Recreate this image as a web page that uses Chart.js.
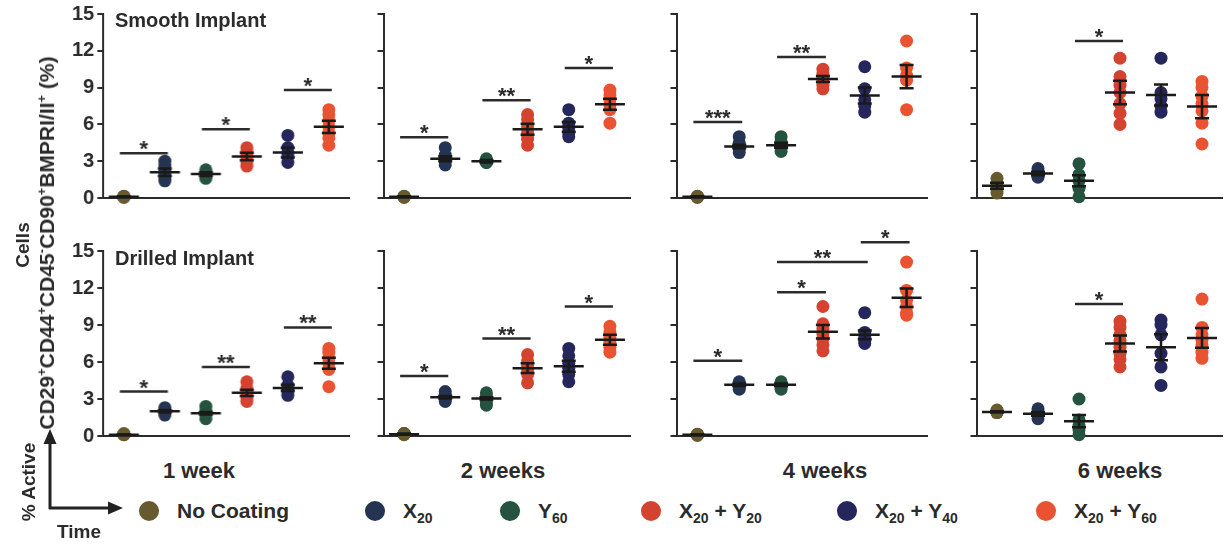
<!DOCTYPE html>
<html>
<head>
<meta charset="utf-8">
<script src="https://cdn.jsdelivr.net/npm/chart.js@4.4.1/dist/chart.umd.min.js"></script>
<style>
  body { margin: 0; width: 1225px; height: 550px; background: #fff; position: relative; overflow: hidden;
         font-family: "Liberation Sans", Arial, sans-serif; font-weight: bold; color: #2b2b2b; }
  .panel { position: absolute; }
  .lbl { position: absolute; white-space: nowrap; line-height: 1; }
  .c { transform: translate(-50%, -50%); }
  .rot { transform: translate(-50%, -50%) rotate(-90deg); }
  .dot { position: absolute; width: 20px; height: 20px; border-radius: 50%; transform: translate(-50%, -50%); }
  sub { font-size: 14px; vertical-align: -5px; }
  sup { font-size: 13px; vertical-align: 8px; }
</style>
</head>
<body>
<script>
// groups and time points
const groups = ["No Coating", "X20", "Y60", "X20 + Y20", "X20 + Y40", "X20 + Y60"];
const weeks = ["1 week", "2 weeks", "4 weeks", "6 weeks"];
const yTicks = [0, 3, 6, 9, 12, 15];

// individual points, one list per group (smooth implant)
const smoothWk1 = [[0.1, 0.1, 0.15, 0.05, 0.1], [3.0, 2.6, 2.2, 1.9, 1.6, 1.4], [2.3, 2.0, 1.9, 1.8, 1.6],
  [4.1, 3.8, 3.5, 3.3, 3.0, 2.6], [5.1, 4.1, 3.7, 3.4, 2.9], [7.2, 6.8, 6.3, 5.8, 5.3, 4.9, 4.3]];
const smoothWk2 = [[0.15, 0.1, 0.1, 0.05, 0.1], [4.1, 3.5, 3.2, 3.0, 2.7], [3.2, 3.1, 3.0, 2.9, 2.9],
  [6.8, 6.4, 5.9, 5.6, 5.2, 4.8, 4.3], [7.2, 6.1, 5.7, 5.3, 5.0], [8.8, 8.4, 8.0, 7.6, 7.2, 6.1]];
const smoothWk4 = [[0.1, 0.1, 0.05, 0.15, 0.1], [5.0, 4.5, 4.2, 4.0, 3.7], [5.0, 4.6, 4.3, 4.1, 3.8],
  [10.5, 10.1, 9.8, 9.5, 9.2, 8.9], [10.7, 8.9, 8.0, 7.5, 7.0], [12.8, 10.6, 10.0, 9.6, 7.2]];
const smoothWk6 = [[1.6, 1.2, 0.9, 0.7, 0.4], [2.4, 2.1, 2.0, 1.8, 1.7], [2.8, 1.9, 1.4, 0.8, 0.1],
  [11.4, 9.9, 9.2, 8.6, 7.7, 6.9, 6.0], [11.4, 8.6, 8.1, 7.5, 7.0], [9.5, 9.0, 8.3, 7.7, 7.1, 6.1, 4.4]];

// drilled implant
const drilledWk1 = [[0.15, 0.1, 0.2, 0.1, 0.15], [2.3, 2.1, 2.0, 1.9, 1.7], [2.4, 2.0, 1.9, 1.7, 1.4],
  [4.4, 3.9, 3.6, 3.4, 3.1, 2.8], [4.8, 4.1, 3.8, 3.6, 3.3], [7.1, 6.8, 6.3, 5.9, 5.4, 4.0]];
const drilledWk2 = [[0.2, 0.15, 0.2, 0.1, 0.2], [3.6, 3.3, 3.2, 3.0, 2.8], [3.5, 3.2, 3.0, 2.8, 2.5],
  [6.6, 6.1, 5.7, 5.4, 5.0, 4.3], [7.1, 6.5, 5.9, 5.5, 5.0, 4.4], [8.9, 8.4, 8.0, 7.6, 7.2, 6.8]];
const drilledWk4 = [[0.1, 0.15, 0.05, 0.1, 0.1], [4.4, 4.2, 4.1, 4.0, 3.8], [4.4, 4.2, 4.1, 4.0, 3.8],
  [10.5, 9.1, 8.7, 8.3, 7.9, 7.4, 6.9], [10.0, 8.4, 8.0, 7.7, 7.5], [14.1, 11.8, 11.0, 10.5, 10.0, 9.8]];
const drilledWk6 = [[2.1, 2.0, 2.0, 1.9, 1.9], [2.2, 1.9, 1.8, 1.7, 1.4], [3.0, 1.3, 0.8, 0.5, 0.1],
  [9.3, 8.8, 8.2, 7.7, 7.2, 6.7, 6.2, 5.6], [9.4, 9.0, 8.2, 6.7, 5.6, 4.1], [11.1, 8.8, 8.2, 7.8, 7.4, 6.8, 6.3]];

// mean and SEM per week per group
const smoothMean = [[0.1, 2.1, 1.95, 3.38, 3.7, 5.8], [0.1, 3.2, 3.0, 5.6, 5.8, 7.65],
  [0.1, 4.2, 4.3, 9.7, 8.35, 9.9], [1.0, 2.0, 1.4, 8.6, 8.4, 7.45]];
const smoothSem = [[0.05, 0.3, 0.15, 0.3, 0.4, 0.5], [0.05, 0.2, 0.1, 0.45, 0.4, 0.45],
  [0.05, 0.15, 0.2, 0.25, 0.65, 0.95], [0.25, 0.15, 0.45, 0.95, 0.85, 0.95]];
const drilledMean = [[0.1, 2.0, 1.85, 3.5, 3.9, 5.9], [0.15, 3.15, 3.05, 5.5, 5.65, 7.8],
  [0.1, 4.15, 4.15, 8.45, 8.2, 11.2], [1.95, 1.8, 1.2, 7.5, 7.2, 7.95]];
const drilledSem = [[0.05, 0.1, 0.1, 0.25, 0.25, 0.45], [0.05, 0.1, 0.1, 0.4, 0.45, 0.4],
  [0.05, 0.1, 0.1, 0.55, 0.35, 0.75], [0.05, 0.15, 0.5, 0.65, 1.05, 0.8]];

// significance bars: [fromGroup, toGroup, yValue, label]
const smoothSig = [
  [[0, 1, 3.65, "*"], [2, 3, 5.6, "*"], [4, 5, 8.8, "*"]],
  [[0, 1, 4.95, "*"], [2, 3, 7.97, "**"], [4, 5, 10.6, "*"]],
  [[0, 1, 6.2, "***"], [2, 3, 11.5, "**"]],
  [[2, 3, 12.8, "*"]]
];
const drilledSig = [
  [[0, 1, 3.6, "*"], [2, 3, 5.6, "**"], [4, 5, 8.8, "**"]],
  [[0, 1, 4.87, "*"], [2, 3, 7.9, "**"], [4, 5, 10.5, "*"]],
  [[0, 1, 6.1, "*"], [2, 3, 11.65, "*"], [2, 4, 14.1, "**"], [4, 5, 15.7, "*"]],
  [[2, 3, 10.7, "*"]]
];

const groupColors = ["#665a2e", "#243452", "#25533f", "#d4432f", "#25265c", "#ea5331"];
const ink = "#2b2b2b";

function meanSemPlugin(mean, sem) {
  return {
    id: "meanSem",
    afterDatasetsDraw(chart) {
      const { ctx, scales: { x, y } } = chart;
      ctx.save();
      ctx.strokeStyle = "#1a1a1a";
      ctx.lineWidth = 2.5;
      mean.forEach((m, g) => {
        const cx = x.getPixelForValue(g);
        const ym = y.getPixelForValue(m);
        const yh = y.getPixelForValue(m + sem[g]);
        const yl = y.getPixelForValue(Math.max(0, m - sem[g]));
        ctx.beginPath();
        ctx.moveTo(cx - 15, ym); ctx.lineTo(cx + 15, ym);
        ctx.moveTo(cx - 7, yh); ctx.lineTo(cx + 7, yh);
        ctx.moveTo(cx - 7, yl); ctx.lineTo(cx + 7, yl);
        ctx.moveTo(cx, yh); ctx.lineTo(cx, yl);
        ctx.stroke();
      });
      ctx.restore();
    }
  };
}

function sigPlugin(bars) {
  return {
    id: "sigBars",
    afterDraw(chart) {
      const { ctx, scales: { x, y } } = chart;
      ctx.save();
      ctx.strokeStyle = ink;
      ctx.fillStyle = ink;
      ctx.lineWidth = 2.5;
      ctx.font = 'bold 22px "Liberation Sans", Arial';
      ctx.textAlign = "center";
      bars.forEach(([a, b, v, label]) => {
        const x1 = x.getPixelForValue(a) - 4;
        const x2 = x.getPixelForValue(b) + 3;
        const yy = y.getPixelForValue(v);
        ctx.beginPath();
        ctx.moveTo(x1, yy); ctx.lineTo(x2, yy);
        ctx.stroke();
        ctx.fillText(label, (x1 + x2) / 2, yy + 3);
      });
      ctx.restore();
    }
  };
}

function makePanel(points, mean, sem, sig, box, showTicks) {
  const div = document.createElement("div");
  div.className = "panel";
  div.style.left = (box.left - 50) + "px";
  div.style.top = (box.top - 30) + "px";
  div.style.width = (box.right - box.left + 60) + "px";
  div.style.height = (box.bottom - box.top + 45) + "px";
  const canvas = document.createElement("canvas");
  div.appendChild(canvas);
  document.body.appendChild(div);

  const chart = new Chart(canvas, {
    type: "line",
    data: {
      labels: groups,
      datasets: points.map((vals, g) => ({
        label: groups[g],
        data: vals.map(v => ({ x: groups[g], y: v })),
        showLine: false,
        pointRadius: 6.5,
        pointHoverRadius: 6.5,
        pointBackgroundColor: groupColors[g],
        pointBorderWidth: 0,
        clip: false
      }))
    },
    options: {
      responsive: true,
      maintainAspectRatio: false,
      animation: false,
      events: [],
      layout: { padding: { top: 30, bottom: 10, right: 4, left: 0 } },
      plugins: { legend: { display: false }, tooltip: { enabled: false } },
      scales: {
        x: {
          type: "category",
          offset: true,
          ticks: { display: false },
          grid: { display: false },
          border: { display: true, color: ink, width: 2 }
        },
        y: {
          min: 0,
          max: 15,
          afterBuildTicks: s => { s.ticks = yTicks.map(v => ({ value: v })); },
          ticks: {
            display: showTicks,
            color: ink,
            padding: 3,
            font: { family: '"Liberation Sans", Arial', weight: "bold", size: 20 }
          },
          grid: { display: true, drawOnChartArea: false, drawTicks: true, tickLength: 6, color: ink, lineWidth: 2 },
          border: { display: true, color: ink, width: 2 }
        }
      }
    },
    plugins: [meanSemPlugin(mean, sem), sigPlugin(sig)]
  });

  // line the plot area up with the target box
  for (let i = 0; i < 2; i++) {
    const ca = chart.chartArea;
    const w = parseFloat(div.style.width), h = parseFloat(div.style.height);
    div.style.width = (w + (box.right - box.left) - (ca.right - ca.left)) + "px";
    div.style.height = (h + (box.bottom - box.top) - (ca.bottom - ca.top)) + "px";
    chart.resize();
    const c2 = chart.chartArea;
    div.style.left = (box.left - c2.left) + "px";
    div.style.top = (box.top - c2.top) + "px";
  }
  return chart;
}

const cols = [[103, 348], [383, 630], [676, 927], [976, 1222]];
const rows = [
  { pts: [smoothWk1, smoothWk2, smoothWk4, smoothWk6], mean: smoothMean, sem: smoothSem, sig: smoothSig, top: 14, bottom: 198 },
  { pts: [drilledWk1, drilledWk2, drilledWk4, drilledWk6], mean: drilledMean, sem: drilledSem, sig: drilledSig, top: 251, bottom: 436 }
];

rows.forEach(row => {
  cols.forEach((col, c) => {
    makePanel(row.pts[c], row.mean[c], row.sem[c], row.sig[c],
      { left: col[0], right: col[1], top: row.top, bottom: row.bottom }, c === 0);
  });
});

// text around the panels
function addLabel(html, x, y, size, cls) {
  const el = document.createElement("div");
  el.className = "lbl " + cls;
  el.style.left = x + "px";
  el.style.top = y + "px";
  el.style.fontSize = size + "px";
  el.innerHTML = html;
  document.body.appendChild(el);
  return el;
}

addLabel("Smooth Implant", 115, 10, 20, "");
addLabel("Drilled Implant", 115, 248, 20, "");
addLabel("Cells", 22, 245, 19, "rot");
addLabel("CD29<sup>+</sup>CD44<sup>+</sup>CD45<sup>-</sup>CD90<sup>+</sup>BMPRI/II<sup>+</sup> (%)", 46, 243, 21, "rot");

const weekX = [199, 503, 825, 1120];
weeks.forEach((w, i) => addLabel(w, weekX[i], 471, 22, "c"));

// legend
const legendHtml = ["No Coating", "X<sub>20</sub>", "Y<sub>60</sub>", "X<sub>20</sub> + Y<sub>20</sub>",
  "X<sub>20</sub> + Y<sub>40</sub>", "X<sub>20</sub> + Y<sub>60</sub>"];
const legendDotX = [149, 375, 510, 651, 847, 1046];
legendHtml.forEach((t, g) => {
  const d = document.createElement("div");
  d.className = "dot";
  d.style.left = legendDotX[g] + "px";
  d.style.top = "511px";
  d.style.background = groupColors[g];
  document.body.appendChild(d);
  addLabel(t, legendDotX[g] + 28, 500, 21, "");
});

// "% Active" vs "Time" arrows
const svg = document.createElementNS("http://www.w3.org/2000/svg", "svg");
svg.setAttribute("width", "140");
svg.setAttribute("height", "120");
svg.style.position = "absolute";
svg.style.left = "0px";
svg.style.top = "420px";
svg.innerHTML =
  '<line x1="50" y1="89" x2="50" y2="22" stroke="#222" stroke-width="3"/>' +
  '<polygon points="50,9 43.5,24 56.5,24" fill="#222"/>' +
  '<line x1="49" y1="88" x2="110" y2="88" stroke="#222" stroke-width="3"/>' +
  '<polygon points="123,88 108,81.5 108,94.5" fill="#222"/>';
document.body.appendChild(svg);
addLabel("% Active", 28, 482, 19, "rot");
addLabel("Time", 79, 531, 19, "c");
</script>
</body>
</html>
